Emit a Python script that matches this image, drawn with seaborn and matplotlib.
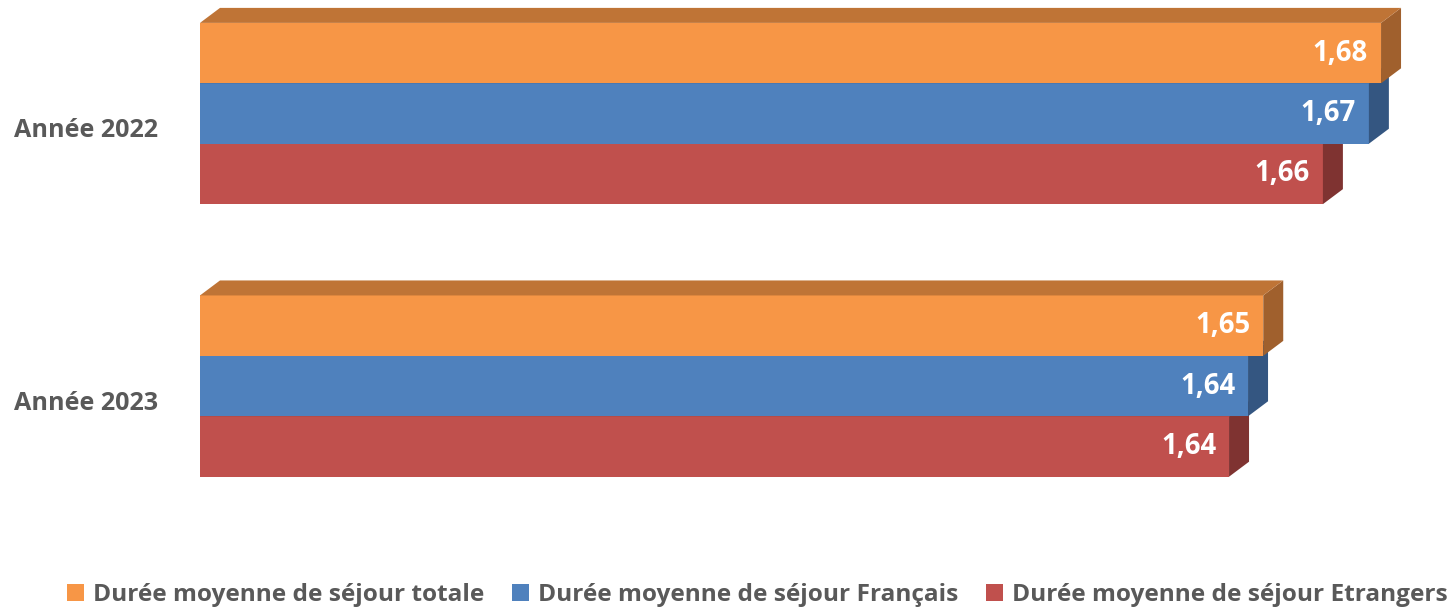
import numpy as np
import pandas as pd
import matplotlib
matplotlib.use("Agg")
import matplotlib.pyplot as plt
import matplotlib.transforms as mtransforms
from matplotlib.patches import Polygon, Patch
import seaborn as sns

# data (labels are rounded to 2 decimals)
categories = ["Année 2022", "Année 2023"]
series = ["Durée moyenne de séjour totale",
          "Durée moyenne de séjour Français",
          "Durée moyenne de séjour Etrangers"]
totale = [1.6778, 1.6468]
francais = [1.6746, 1.6428]
etrangers = [1.6625, 1.6378]

front = ["#F79646", "#4F81BD", "#C0504D"]
top_c = ["#BF7436", "#3E6797", "#9A3F3D"]
side_c = ["#A0602D", "#345681", "#7F3331"]

df = pd.DataFrame({
    "annee": categories * 3,
    "serie": [s for s in series for _ in categories],
    "valeur": totale + francais + etrangers,
})

W, H = 1455, 610
fig = plt.figure(figsize=(W / 100, H / 100), dpi=100)
ax_l, ax_r, ax_t, ax_b = 200, 1420, 0, 500
ax = fig.add_axes([ax_l / W, 1 - ax_b / H, (ax_r - ax_l) / W, (ax_b - ax_t) / H])

sns.barplot(data=df, y="annee", x="valeur", hue="serie", hue_order=series,
            palette=front, orient="h", width=0.665, ax=ax, legend=False,
            saturation=1, edgecolor="none", linewidth=0)

xmin, xmax = 1.367, 1.367 + (ax_r - ax_l) / 3800
ytop, ybot = -0.4165, 1.418
ax.set_xlim(xmin, xmax)
ax.set_ylim(ybot, ytop)

# pixel depth of the 3d effect converted to data units
px_x = (xmax - xmin) / (ax_r - ax_l)
dx = 20 * px_x
dy = 15 * (ybot - ytop) / (ax_b - ax_t)

for i, cont in enumerate(ax.containers):
    z = 3 - i
    for bar in cont:
        bar.set_zorder(z)
        x0 = xmin
        x1 = bar.get_x() + bar.get_width()
        y0 = bar.get_y()
        y1 = y0 + bar.get_height()
        yt = min(y0, y1)
        yb = max(y0, y1)
        side = Polygon([(x1, yt), (x1 + dx, yt - dy), (x1 + dx, yb - dy), (x1, yb)],
                       closed=True, facecolor=side_c[i], edgecolor="none", zorder=z)
        top = Polygon([(x0, yt), (x1, yt), (x1 + dx, yt - dy), (x0 + dx, yt - dy)],
                      closed=True, facecolor=top_c[i], edgecolor="none", zorder=z)
        ax.add_patch(side)
        ax.add_patch(top)
        ax.text(x1 - 13 * px_x, (yt + yb) / 2,
                f"{bar.get_width():.2f}".replace(".", ","),
                ha="right", va="center", color="white", fontsize=19.8,
                fontweight="bold", family="Open Sans", zorder=z + 0.5)

for s in ax.spines.values():
    s.set_visible(False)
ax.set_xticks([])
ax.set_xlabel("")
ax.set_ylabel("")
ax.tick_params(axis="y", length=0, pad=30)
shift = mtransforms.ScaledTranslation(0, -14 / 100, fig.dpi_scale_trans)
for lab in ax.get_yticklabels():
    lab.set_fontfamily("Open Sans")
    lab.set_fontweight("bold")
    lab.set_fontsize(18.1)
    lab.set_color("#595959")
    lab.set_transform(lab.get_transform() + shift)

handles = [Patch(facecolor=c, edgecolor="none") for c in front]
fig.legend(handles, series, loc="center", bbox_to_anchor=(0.5206, 0.024),
           ncol=3, frameon=False, handlelength=0.7, handleheight=0.7,
           handletextpad=0.35, columnspacing=1.15,
           prop={"family": "Open Sans", "weight": "bold", "size": 17.6},
           labelcolor="#595959")

fig.savefig("out.png", dpi=100)
